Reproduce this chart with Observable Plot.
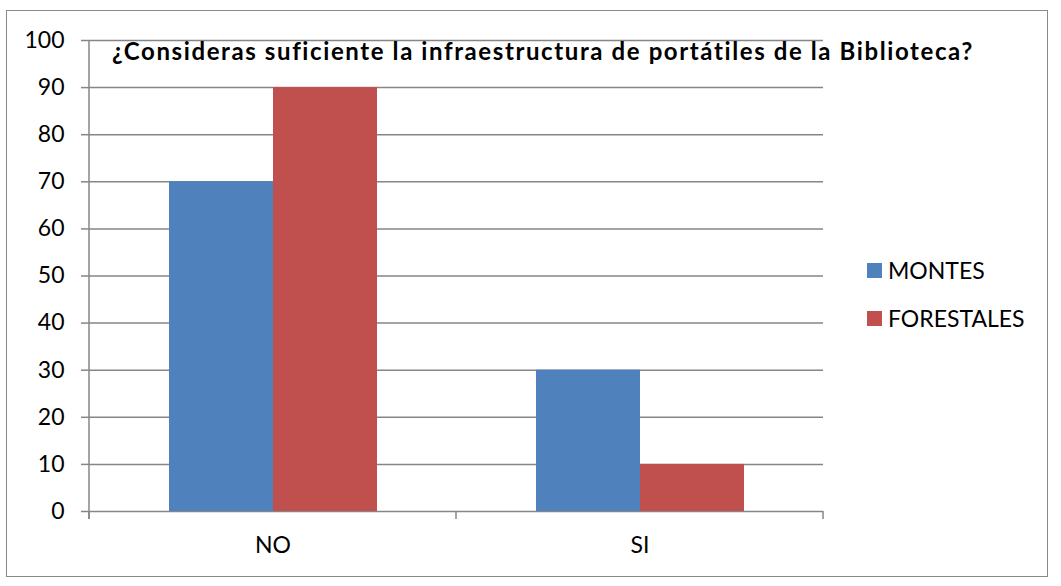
<!DOCTYPE html>
<html><head><meta charset="utf-8">
<script src="https://cdn.jsdelivr.net/npm/d3@7"></script>
<script src="https://cdn.jsdelivr.net/npm/@observablehq/plot@0.6"></script>
<style>
body{margin:0;background:#fff;font-family:Lato,"Open Sans",sans-serif;}
#wrap{position:relative;width:1061px;height:586px;overflow:hidden;}
#border{position:absolute;left:6px;top:10px;width:1040px;height:565px;border:1.5px solid #898989;pointer-events:none;}
#title{position:absolute;left:112px;top:36px;font-weight:bold;font-size:24px;letter-spacing:1.6px;white-space:nowrap;color:#000;line-height:29px;}
.leg{position:absolute;left:867px;font-size:23px;line-height:28px;color:#000;display:flex;align-items:center;white-space:nowrap;}
.leg span.sw{display:inline-block;width:15px;height:15px;margin-right:6px;}
#chart{position:absolute;left:0;top:0;}
</style></head>
<body>
<div id="wrap">
  <div id="chart"></div>
  <div id="title"></div>
  <div id="legend"></div>
  <div id="border"></div>
</div>
<script>
const titleText = "¿Consideras suficiente la infraestructura de portátiles de la Biblioteca?";
const categories = ["NO", "SI"];
const series = ["MONTES", "FORESTALES"];
const montes = [70, 30];
const forestales = [90, 10];
const yTicks = [0, 10, 20, 30, 40, 50, 60, 70, 80, 90, 100];
const colors = ["#4F81BD", "#C0504D"];
const gray = "#868686";

const data = categories.flatMap((c, i) => [
  {cat: c, serie: series[0], value: montes[i]},
  {cat: c, serie: series[1], value: forestales[i]}
]);

const plot = Plot.plot({
  width: 1061,
  height: 586,
  marginLeft: 89,
  marginRight: 238,
  marginTop: 40,
  marginBottom: 75,
  style: {fontFamily: "Lato, 'Open Sans', sans-serif", fontSize: "23px", color: "#000", background: "transparent"},
  fx: {domain: categories, padding: 0, axis: "bottom", tickSize: 0, tickPadding: 25, label: null},
  x: {domain: series, paddingInner: 0, paddingOuter: 0.764, axis: null},
  y: {domain: [0, 100], ticks: 10, tickSize: 8, tickPadding: 17, label: null},
  color: {domain: series, range: colors},
  marks: [
    Plot.ruleY(yTicks, {stroke: gray, strokeWidth: 1.5}),
    Plot.barY(data, {fx: "cat", x: "serie", y: "value", fill: "serie"})
  ]
});
document.getElementById("chart").appendChild(plot);

const svg = d3.select(plot);
svg.selectAll("[aria-label^='y-axis'] line, [aria-label^='y-axis tick'] path, [aria-label^='y-axis'] path")
  .attr("stroke", gray).attr("stroke-width", 1.5);
svg.selectAll("[aria-label^='y-axis'] path.domain").remove();

// axis line and category boundary ticks, positioned through the plot's scales
const fx = plot.scale("fx");
const y = plot.scale("y");
const y0 = y.apply(0), y1 = y.apply(100);
const xs = categories.map(c => fx.apply(c));
xs.push(fx.apply(categories[categories.length - 1]) + fx.bandwidth);
const g = svg.append("g").attr("stroke", gray).attr("stroke-width", 1.5);
g.append("line").attr("x1", xs[0]).attr("x2", xs[0]).attr("y1", y1).attr("y2", y0 + 8);
xs.forEach(x => g.append("line").attr("x1", x).attr("x2", x).attr("y1", y0).attr("y2", y0 + 8));

document.getElementById("title").textContent = titleText;
const legend = document.getElementById("legend");
const legTops = [256, 304];
series.forEach((s, i) => {
  const d = document.createElement("div");
  d.className = "leg";
  d.style.top = legTops[i] + "px";
  d.innerHTML = `<span class="sw" style="background:${colors[i]}"></span>${s}`;
  legend.appendChild(d);
});
</script>
</body></html>
